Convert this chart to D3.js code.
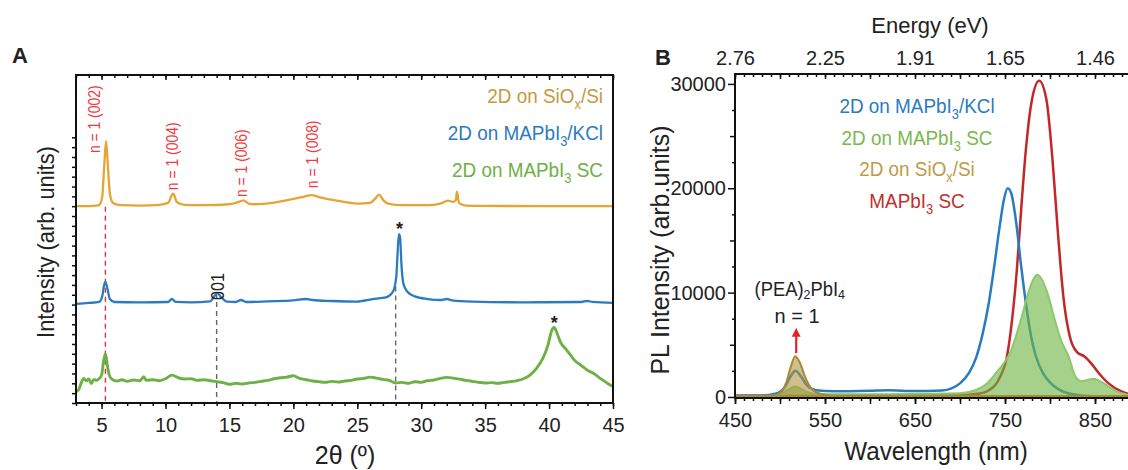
<!DOCTYPE html>
<html><head><meta charset="utf-8">
<script src="https://cdn.jsdelivr.net/npm/d3@7"></script>
<style>
body{margin:0;background:#fff;}
svg text{font-family:"Liberation Sans",Arial,sans-serif;fill:#222;}
</style></head><body>
<svg id="c" width="1128" height="470"></svg>
<script>
// ---------- Panel A: XRD (2θ in degrees, intensity in arbitrary units above each trace's baseline)
const xrdSiOx = [[3,0.2],[4,0.2],[4.8,0.5],[5.05,3],[5.2,12],[5.35,20],[5.5,12],[5.65,4],[5.9,1.2],[6.5,0.5],[8,0.4],[9.5,0.6],[10.2,1.2],[10.6,4],[10.9,1.4],[11.5,0.6],[13,0.5],[15,0.8],[15.8,1.6],[16.1,2],[16.5,1],[17,0.8],[18.5,1.3],[20,2.4],[21,3.3],[21.4,3.6],[22,3],[23.5,1.8],[25,1],[26,1.2],[26.4,2.5],[26.7,3.7],[27,2.2],[27.4,1],[28.5,0.5],[30.5,0.5],[31.5,1],[32.1,1.9],[32.5,1.5],[32.7,2],[32.8,4.6],[32.95,1.2],[33.5,0.4],[35,0.3],[40,0.2],[45,0.2]];
const xrdKCl = [[3,-0.3],[4,0],[4.8,0.3],[5.05,2],[5.2,5.5],[5.3,6.4],[5.45,4.5],[5.65,1.2],[6,0.3],[8,0.2],[10.2,0.3],[10.5,1.2],[10.8,0.3],[12,0.2],[13.5,0.5],[13.85,2.2],[14.05,3],[14.35,1.8],[14.8,0.4],[15.5,0.3],[15.9,0.9],[16.3,0.3],[18,0.5],[20,0.8],[21,1.2],[21.5,0.9],[23,0.6],[25,0.4],[26.2,1.2],[26.8,1.5],[27.3,1.8],[27.8,3.5],[28.05,8],[28.15,15],[28.25,21],[28.35,20],[28.45,12],[28.6,6],[28.9,3.5],[29.5,2],[30.5,1.2],[31.5,0.9],[32,1.2],[32.4,0.8],[34,0.4],[38,0.2],[42.5,0.3],[43,0.6],[43.4,0.3],[45,0]];
const xrdSC = [[3.0,-3],[3.2,-2.5],[3.4,-0.5],[3.6,1],[3.8,0.3],[4.0,0.8],[4.2,-0.6],[4.4,0.7],[4.6,0.4],[4.8,0.9],[5.0,2],[5.15,6],[5.3,8.5],[5.45,5],[5.6,2],[5.8,0.8],[6.2,0.2],[6.6,0.6],[7.0,0.1],[7.5,0.5],[8.0,0.3],[8.3,1.5],[8.5,0.4],[9.0,0.6],[9.5,0.3],[10.0,0.9],[10.5,2],[11.0,1.2],[11.5,0.8],[12.0,0.9],[12.5,0.4],[13,0.6],[13.5,0.3],[14,0],[14.5,-0.3],[15,-0.8],[15.5,-0.5],[16,-0.7],[16.5,-0.4],[17,-0.2],[17.5,0.1],[18,0.4],[18.5,0.9],[19,1.2],[19.5,1.4],[20,1.8],[20.5,1.0],[21,0.6],[21.5,0.2],[22,0],[22.5,-0.2],[23,0.1],[23.5,-0.1],[24,0.2],[24.5,0.4],[25,0.8],[25.5,1.0],[26,1.4],[26.5,1.1],[27,0.7],[27.5,0.4],[28,-0.4],[28.5,-0.2],[29,-0.5],[29.5,0],[30,-0.2],[30.5,0.3],[31,0.5],[31.5,1.0],[32,1.3],[32.5,1.1],[33,0.8],[33.5,0.4],[34,0.1],[34.5,-0.2],[35,-0.4],[35.5,-0.3],[36,-0.5],[36.5,-0.2],[37,0],[37.5,0.3],[38,0.9],[38.5,2],[39,4],[39.5,7],[39.9,11],[40.2,15.5],[40.4,16.5],[40.6,15],[40.9,12],[41.3,10],[41.7,8],[42,6.5],[42.5,5],[43,3.5],[43.5,2.5],[44,1],[44.5,-0.3],[45,-1.5]];
const xrdOffsets = [59.8, 30.5, 6.5];          // stacking offsets: SiOx, KCl, SC
const xTicksA = [5,10,15,20,25,30,35,40,45];
const peakLabels = ["n = 1 (002)","n = 1 (004)","n = 1 (006)","n = 1 (008)"];
const peakLabelTheta = [4.9, 11.0, 16.35, 21.95];
const peakLabelLevel = [76.2, 64.9, 62.8, 65.5];
const refLineTheta = [5.3, 14, 28];
const refLineTop = [59.8, 33.5, 35.5];
const starTheta = [28.3, 40.4];
const starLevel = [51.5, 23];
const legendA = [
  {color:"#C39A3C", parts:[["2D on SiO"],["x",1],["/Si"]]},
  {color:"#2A7BBF", parts:[["2D on MAPbI"],["3",1],["/KCl"]]},
  {color:"#6DB046", parts:[["2D on MAPbI"],["3",1],[" SC"]]}
];

// ---------- Panel B: PL (wavelength nm, intensity)
const plKCl = [[450,150],[480,150],[495,300],[505,900],[512,2000],[517,2500],[523,2000],[530,1100],[540,650],[560,550],[600,600],[620,650],[650,560],[680,620],[690,800],[700,1300],[710,2300],[718,3800],[725,6000],[732,9000],[738,12500],[744,16300],[749,19000],[753,20000],[757,19500],[762,17000],[768,12500],[774,8500],[779,5800],[784,4000],[792,2300],[800,1400],[810,700],[820,350],[835,150],[860,50],[900,30]];
const plSC3D = [[450,100],[600,100],[700,150],[720,300],[732,640],[745,2000],[752,3800],[758,7500],[763,12000],[768,18000],[773,23500],[780,28500],[788,30300],[796,28500],[803,22500],[809,15500],[815,9500],[822,5800],[830,4300],[838,3900],[846,3200],[855,2200],[865,1300],[880,500],[895,150],[900,100]];
const plSC2D = [[450,50],[495,150],[505,500],[512,850],[517,1000],[523,800],[532,400],[545,250],[600,250],[650,300],[700,350],[717,640],[730,1300],[740,2300],[750,3400],[756,4300],[762,5800],[768,7500],[776,10000],[781,11200],[786,11700],[790,11400],[797,10000],[805,7500],[812,5500],[821,3800],[828,2000],[835,1500],[842,1650],[848,1750],[856,1500],[865,1000],[872,640],[882,300],[890,150],[900,80]];
const plSiOx = [[450,100],[490,120],[500,400],[507,1400],[512,2900],[517,3900],[522,3300],[528,1900],[535,800],[545,300],[560,150],[650,120],[750,100],[900,100]];
const xTicksB = [450,550,650,750,850];
const yTicksB = [0,10000,20000,30000];
const legendB = [
  {color:"#2A7BC0", parts:[["2D on MAPbI"],["3",1],["/KCl"]]},
  {color:"#7AB850", parts:[["2D on MAPbI"],["3",1],[" SC"]]},
  {color:"#C09A48", parts:[["2D on SiO"],["x",1],["/Si"]]},
  {color:"#C0302E", parts:[["MAPbI"],["3",1],[" SC"]]}
];

const svg = d3.select("#c");
svg.append("defs").html(`
 <clipPath id="clipA"><rect x="76" y="75" width="537" height="328"/></clipPath>
 <clipPath id="clipB"><rect x="735" y="74" width="400" height="324"/></clipPath>
 <marker id="arr" viewBox="0 0 10 10" refX="5" refY="5" markerWidth="4" markerHeight="4" orient="auto"><path d="M0,0 L10,5 L0,10 z" fill="#E8202A"/></marker>`);

function txt(parent, x, y, content, o){
  o = Object.assign({size:20,k:1,anchor:"start",rotate:0,color:null,weight:null,sub:0.28}, o||{});
  const g = parent.append("g").attr("transform",`translate(${x},${y})`+(o.rotate?` rotate(${o.rotate})`:""));
  const t = g.append("text").attr("transform",`scale(${o.k},1)`).attr("font-size",o.size).attr("text-anchor",o.anchor);
  if(o.color) t.style("fill",o.color);
  if(o.weight) t.attr("font-weight",o.weight);
  if(typeof content === "string") t.text(content);
  else content.forEach((p,i)=>{
    const s = t.append("tspan").text(p[0]);
    if(p[1]) s.attr("font-size",o.size*0.68).attr("dy",o.size*o.sub);
    else if(i>0 && content[i-1][1]) s.attr("dy",-o.size*o.sub);
  });
  return t;
}
function styleAxis(g, fs){
  g.select(".domain").remove();
  g.selectAll(".tick line").attr("stroke","#111").attr("stroke-width",1.5);
  g.selectAll(".tick text").attr("font-size",fs).attr("fill","#222");
}

// ================= Panel A =================
const xA = d3.scaleLinear().domain([3,45]).range([76,613]);
const yA = d3.scaleLinear().domain([0,100]).range([403,75]);
const gA = svg.append("g");

const lineA = off => d3.line().x(d=>xA(d[0])).y(d=>yA(d[1]+off)).curve(d3.curveMonotoneX);
const curvesA = gA.append("g").attr("clip-path","url(#clipA)");
refLineTheta.forEach((t,i)=>{
  curvesA.append("line").attr("x1",xA(t)).attr("x2",xA(t)).attr("y1",yA(refLineTop[i])).attr("y2",yA(0))
   .attr("stroke", i===0?"#E8303A":"#666").attr("stroke-width",1.4).attr("stroke-dasharray","5,4");
});
const seriesA = [xrdSiOx, xrdKCl, xrdSC];
const colorsA = ["#E5A532","#2A7BBF","#6DB046"];
const widthsA = [2.3,2.3,2.9];
seriesA.forEach((s,i)=>{
  curvesA.append("path").datum(s).attr("d",lineA(xrdOffsets[i])).attr("fill","none")
    .attr("stroke",colorsA[i]).attr("stroke-width",widthsA[i]).attr("stroke-linejoin","round");
});

let ax;
ax = gA.append("g").attr("transform","translate(0,403)").call(d3.axisBottom(xA).tickValues(d3.range(3,46)).tickSize(3).tickFormat(""));
styleAxis(ax,20);
ax = gA.append("g").attr("transform","translate(0,403)").call(d3.axisBottom(xA).tickValues(xTicksA).tickSize(6).tickPadding(9));
styleAxis(ax,20);
ax = gA.append("g").attr("transform","translate(0,75)").call(d3.axisTop(xA).tickValues(d3.range(3,46)).tickSize(-3).tickFormat(""));
styleAxis(ax,20);
ax = gA.append("g").attr("transform","translate(0,75)").call(d3.axisTop(xA).tickValues(xTicksA).tickSize(-5).tickFormat(""));
styleAxis(ax,20);
ax = gA.append("g").attr("transform","translate(76,0)").call(d3.axisLeft(yA).tickValues(d3.range(0,82,3)).tickSize(4).tickFormat(""));
styleAxis(ax,20);
gA.append("rect").attr("x",76).attr("y",75).attr("width",537).attr("height",328).attr("fill","none").attr("stroke","#111").attr("stroke-width",2);

peakLabels.forEach((t,i)=>{
  txt(gA, xA(peakLabelTheta[i]), yA(peakLabelLevel[i]), t, {size:16,k:0.87,rotate:-90,color:"#EE3B44"});
});
txt(gA, xA(14.55), yA(31.4), "001", {size:18,k:0.9,rotate:-90});
starTheta.forEach((t,i)=>{
  txt(gA, xA(t), yA(starLevel[i])+1, "*", {size:18,anchor:"middle",weight:"bold"});
});
legendA.forEach((L,i)=>{
  txt(gA, 603, 103+i*37, L.parts, {size:21,k:0.9,anchor:"end",color:L.color});
});
txt(gA, 54, 242, "Intensity (arb. units)", {size:23,k:0.95,anchor:"middle",rotate:-90});
txt(gA, 345, 464, "2θ (º)", {size:25,anchor:"middle"});
txt(gA, 12, 63, "A", {size:22,weight:"bold"});

// ================= Panel B =================
const xB = d3.scaleLinear().domain([450,900]).range([735,1140]);
const yB = d3.scaleLinear().domain([-100,30950]).range([398,74]);
const gB = svg.append("g");
const curvesB = gB.append("g").attr("clip-path","url(#clipB)");
const lineB = d3.line().x(d=>xB(d[0])).y(d=>yB(d[1])).curve(d3.curveMonotoneX);
const areaB = d3.area().x(d=>xB(d[0])).y0(yB(0)).y1(d=>yB(d[1])).curve(d3.curveMonotoneX);

curvesB.append("path").datum(plSC3D).attr("d",lineB).attr("fill","none").attr("stroke","#C0282A").attr("stroke-width",2.5);
curvesB.append("path").datum(plKCl).attr("d",lineB).attr("fill","none").attr("stroke","#2A7CC0").attr("stroke-width",2.5);
curvesB.append("path").datum(plSC2D).attr("d",areaB).attr("fill","#6DB443").attr("fill-opacity",0.62);
curvesB.append("path").datum(plSC2D).attr("d",lineB).attr("fill","none").attr("stroke","#8CC86C").attr("stroke-width",2);
curvesB.append("path").datum(plSiOx).attr("d",areaB).attr("fill","#B0923E").attr("fill-opacity",0.6);
curvesB.append("path").datum(plSiOx).attr("d",lineB).attr("fill","none").attr("stroke","#A8893A").attr("stroke-width",2);

ax = gB.append("g").attr("transform","translate(0,398)").call(d3.axisBottom(xB).tickValues(d3.range(450,901,10)).tickSize(3).tickFormat(""));
styleAxis(ax,20);
ax = gB.append("g").attr("transform","translate(0,398)").call(d3.axisBottom(xB).tickValues(d3.range(450,901,50)).tickSize(6).tickFormat(""));
styleAxis(ax,20);
ax = gB.append("g").attr("transform","translate(0,398)").call(d3.axisBottom(xB).tickValues(xTicksB).tickSize(6).tickPadding(9));
styleAxis(ax,20);
ax = gB.append("g").attr("transform","translate(0,74)").call(d3.axisTop(xB).tickValues(d3.range(450,901,10)).tickSize(-3).tickFormat(""));
styleAxis(ax,20);
ax = gB.append("g").attr("transform","translate(0,74)").call(d3.axisTop(xB).tickValues(d3.range(450,901,50)).tickSize(-5).tickFormat(""));
styleAxis(ax,20);
ax = gB.append("g").attr("transform","translate(0,74)").call(d3.axisTop(xB).tickValues(xTicksB).tickSize(0).tickPadding(9).tickFormat(d=>(1240/d).toFixed(2)));
styleAxis(ax,20);
ax = gB.append("g").attr("transform","translate(735,0)").call(d3.axisLeft(yB).tickValues(d3.range(2500,30001,5000)).tickSize(3).tickFormat(""));
styleAxis(ax,20);
ax = gB.append("g").attr("transform","translate(735,0)").call(d3.axisLeft(yB).tickValues([5000,15000,25000]).tickSize(5).tickFormat(""));
styleAxis(ax,20);
ax = gB.append("g").attr("transform","translate(735,0)").call(d3.axisLeft(yB).tickValues(yTicksB).tickSize(7).tickPadding(2).tickFormat(d3.format("d")));
styleAxis(ax,20);
gB.append("path").attr("d","M1130,74 H735 V398 H1130").attr("fill","none").attr("stroke","#111").attr("stroke-width",2);

legendB.forEach((L,i)=>{
  txt(gB, 917, 113+i*31.7, L.parts, {size:21,k:0.9,anchor:"middle",color:L.color});
});
txt(gB, xB(522), yB(9700), [["(PEA)"],["2",1],["PbI"],["4",1]], {size:20,k:0.92,anchor:"middle",sub:0.18});
txt(gB, xB(519), yB(7100), "n = 1", {size:20,anchor:"middle"});
gB.append("line").attr("x1",xB(518)).attr("x2",xB(518)).attr("y1",yB(4200)).attr("y2",yB(6200))
  .attr("stroke","#E8202A").attr("stroke-width",2.2).attr("marker-end","url(#arr)");
txt(gB, 669, 250, "PL Intensity (arb.units)", {size:25,anchor:"middle",rotate:-90});
txt(gB, 936, 460, "Wavelength (nm)", {size:25,k:0.97,anchor:"middle"});
txt(gB, 930, 33, "Energy (eV)", {size:22,anchor:"middle"});
txt(gB, 655, 65, "B", {size:22,weight:"bold"});
</script>
</body></html>
